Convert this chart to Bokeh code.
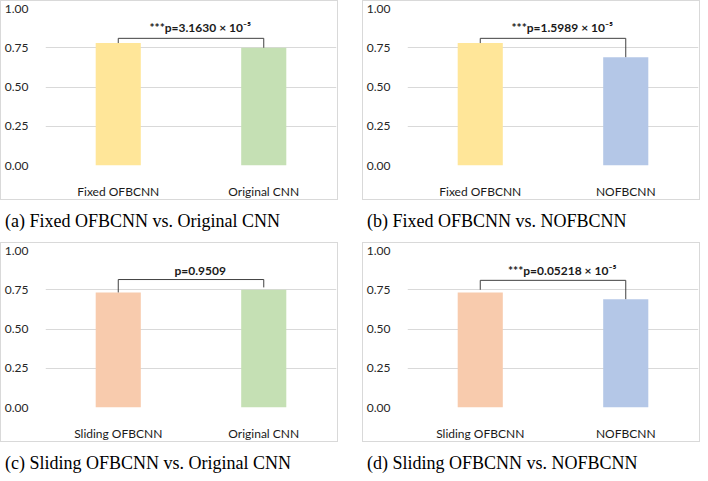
from bokeh.plotting import figure
from bokeh.models import (Range1d, FactorRange, FixedTicker, NumeralTickFormatter, Div,
                          ColumnDataSource, InlineStyleSheet)
from bokeh.layouts import row, column
from bokeh.embed import file_html
from bokeh.resources import INLINE
from bokeh.core.properties import value

# ---- data ----
models = ["Fixed OFBCNN", "Original CNN", "NOFBCNN", "Sliding OFBCNN"]
accuracy = {"Fixed OFBCNN": 0.78, "Original CNN": 0.75, "NOFBCNN": 0.69, "Sliding OFBCNN": 0.733}
colors = {"Fixed OFBCNN": "#FFE699", "Original CNN": "#C5E0B4", "NOFBCNN": "#B4C7E7", "Sliding OFBCNN": "#F8CBAD"}

pairs = [("Fixed OFBCNN", "Original CNN"),
         ("Fixed OFBCNN", "NOFBCNN"),
         ("Sliding OFBCNN", "Original CNN"),
         ("Sliding OFBCNN", "NOFBCNN")]
p_labels = ["***p=3.1630 × 10⁻⁵", "***p=1.5989 × 10⁻⁵", "p=0.9509", "***p=0.05218 × 10⁻⁵"]
bracket_level = [0.81, 0.81, 0.815, 0.81]
bracket_left_end = [0.78, 0.78, 0.733, 0.75]
bracket_right_end = [0.75, 0.69, 0.765, 0.69]
label_level = [0.88, 0.88, 0.87, 0.875]
captions = ["(a) Fixed OFBCNN vs. Original CNN",
            "(b) Fixed OFBCNN vs. NOFBCNN",
            "(c) Sliding OFBCNN vs. Original CNN",
            "(d) Sliding OFBCNN vs. NOFBCNN"]
y_ticks = [0.0, 0.25, 0.5, 0.75, 1.0]

W, H = 338, 200

border_css = InlineStyleSheet(css=":host { border: 1px solid #d9d9d9; box-sizing: border-box; }")


def panel(i):
    a, b = pairs[i]
    p = figure(x_range=FactorRange(a, b), y_range=Range1d(0, 1.0), width=W, height=H,
               output_backend="svg", toolbar_location=None,
               min_border_left=36, min_border_right=3, min_border_top=7, min_border_bottom=28)
    p.stylesheets = [border_css]
    p.outline_line_color = None
    src = ColumnDataSource(dict(x=[a, b], top=[accuracy[a], accuracy[b]],
                                color=[colors[a], colors[b]]))
    p.vbar(x="x", top="top", width=0.31, color="color", source=src, line_color=None)
    # bracket
    p.line(x=[a, a, b, b],
           y=[bracket_left_end[i], bracket_level[i], bracket_level[i], bracket_right_end[i]],
           line_color="#404040", line_width=1)
    src_t = ColumnDataSource(dict(x=[a], y=[label_level[i]], t=[p_labels[i]]))
    p.text(x="x", y="y", text="t", source=src_t, x_offset=W * 0.5 * 0.5 * 0.97,
           text_align="center", text_baseline="middle", text_font=value("Lato"),
           text_font_style="bold", text_font_size="12px", text_color="#1a1a1a")
    # axes
    p.yaxis.ticker = FixedTicker(ticks=y_ticks)
    p.yaxis.formatter = NumeralTickFormatter(format="0.00")
    p.yaxis.axis_line_color = None
    p.yaxis.major_tick_line_color = None
    p.yaxis.minor_tick_line_color = None
    p.yaxis.major_label_standoff = 11
    p.yaxis.major_label_text_font = "Lato"
    p.yaxis.major_label_text_font_size = "12px"
    p.yaxis.major_label_text_color = "#262626"
    p.xaxis.axis_line_color = None
    p.xaxis.major_tick_line_color = None
    p.xaxis.major_label_standoff = 12
    p.xaxis.major_label_text_font = "Lato"
    p.xaxis.major_label_text_font_size = "12px"
    p.xaxis.major_label_text_color = "#1a1a1a"
    p.xgrid.grid_line_color = None
    p.ygrid.grid_line_color = "#d9d9d9"
    p.ygrid.ticker = FixedTicker(ticks=y_ticks)
    cap = Div(text=captions[i], width=W, height=30,
              styles={"font-family": "Liberation Serif", "font-size": "18px",
                      "color": "#000000", "padding-top": "4px", "white-space": "nowrap"})
    return column(p, cap, spacing=0)


layout = column(row(panel(0), panel(1), spacing=14),
                row(panel(2), panel(3), spacing=14), spacing=2)

open("out.html", "w").write(file_html(layout, INLINE))
